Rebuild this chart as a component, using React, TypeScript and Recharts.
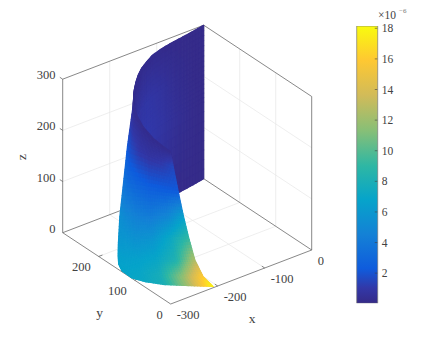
import { Bar, BarChart, ReferenceLine, Scatter, ScatterChart, XAxis, YAxis } from "recharts"

const WIDTH = 432
const HEIGHT = 341
const FONT = "'Liberation Serif', serif"

const xTicks = [-300, -200, -100, 0]
const yTicks = [0, 100, 200]
const zTicks = [0, 100, 200, 300]
const barTicks = [2, 4, 6, 8, 10, 12, 14, 16, 18]

// back sheet, columns along the curve, rows by height
const backX = [0, -30, -59, -84, -109, -131, -151, -171, -190, -208, -226, -241, -254]
const backY = [300, 294, 289, 285, 279, 272, 261, 249, 234, 217, 198, 180, 164]
const backZ = [300, 220, 150, 0]
const backC = [
  [0.1, 0.1, 0.1, 0.12, 0.15, 0.18, 0.2, 0.2, 0.2, 0.2, 0.2, 0.2, 0.2],
  [0.05, 0.1, 0.25, 0.45, 0.7, 0.85, 0.9, 0.85, 0.75, 0.65, 0.55, 0.45, 0.4],
  [0.05, 0.15, 0.35, 0.6, 0.85, 1, 1.1, 1.1, 1.05, 0.95, 0.85, 0.7, 0.6],
  [0.05, 0.08, 0.1, 0.2, 0.3, 0.4, 0.5, 0.5, 0.5, 0.45, 0.4, 0.35, 0.3],
]

// front sheet
const frontZ = [280, 240, 170, 100, 50, 25, 10, 0]
const frontX = [
  [-233, -253, -268, -278, -281, -282],
  [-288, -289, -284, -280, -274, -267],
  [-294, -289, -280, -267, -252, -238],
  [-295, -286, -272, -252, -230, -209],
  [-298, -286, -267, -243, -217, -191],
  [-297, -292, -278, -256, -230, -204],
  [-299, -299, -288, -267, -239, -211],
  [-298, -299, -288, -268, -239, -207],
]
const frontY = [
  [191, 156, 118, 77, 45, 24],
  [136, 123, 107, 83, 57, 36],
  [139, 131, 117, 99, 78, 60],
  [148, 141, 130, 116, 99, 83],
  [148, 145, 137, 123, 107, 93],
  [150, 135, 117, 96, 75, 58],
  [146, 123, 98, 71, 46, 26],
  [138, 109, 84, 57, 31, 3],
]
const frontC = [
  [0.2, 0.2, 0.2, 0.2, 0.2, 0.2],
  [2.2, 1.6, 1, 0.8, 1, 1.5],
  [3.8, 3.2, 2.8, 2.4, 2.3, 2.2],
  [5.5, 5, 4.5, 4.2, 4.8, 6.5],
  [6, 6, 5.6, 5.8, 7.2, 8.8],
  [6.5, 6.5, 6.6, 7, 8.3, 12.5],
  [6.7, 6.8, 7, 7.8, 11.5, 16],
  [6.8, 7, 7.2, 8, 12, 18],
]

const colorValues = [0, 1, 2.27, 4.5, 6.8, 9, 11.3, 13.6, 15.9, 18.15]
const colorHex = ["#352a87", "#3238a8", "#0f5cdd", "#1481d6", "#06a4ca", "#2eb7a4", "#87bf77", "#d1bb59", "#fec832", "#f9fb0e"]

const toRgb = (hex: string) => [1, 3, 5].map((i) => parseInt(hex.slice(i, i + 2), 16))

function parula(c: number) {
  let i = 0
  while (i < colorValues.length - 2 && c > colorValues[i + 1]) i++
  const t = Math.max(0, Math.min(1, (c - colorValues[i]) / (colorValues[i + 1] - colorValues[i])))
  const a = toRgb(colorHex[i])
  const b = toRgb(colorHex[i + 1])
  const m = a.map((v, k) => Math.round(v + (b[k] - v) * t))
  return `rgb(${m[0]},${m[1]},${m[2]})`
}

// view of the 3D box on the page
const project = (x: number, y: number, z: number) => ({
  sx: 170.7 + (x + 300) * 0.47 - y * 0.36,
  sy: 304 - (x + 300) * 0.18 - y * 0.2377 - z * 0.5117,
})

type Node = { sx: number; sy: number; c: number; right?: Node; down?: Node; diag?: Node }

function buildSheet(xs: number[][], ys: number[][], zs: number[], cs: number[][]) {
  const grid: Node[][] = xs.map((row, r) =>
    row.map((x, k) => ({ ...project(x, ys[r][k], zs[r]), c: cs[r][k] })),
  )
  grid.forEach((row, r) =>
    row.forEach((n, k) => {
      n.right = row[k + 1]
      n.down = grid[r + 1]?.[k]
      n.diag = grid[r + 1]?.[k + 1]
    }),
  )
  return grid.flat()
}

const backNodes = buildSheet(
  backZ.map(() => backX),
  backZ.map(() => backY),
  backZ,
  backC,
)
const frontNodes = buildSheet(frontX, frontY, frontZ, frontC)

// interpolated shading of one cell, like shading interp
const STEPS = 8
function SurfaceCell(props: any) {
  const { cx, cy, payload } = props
  const n: Node = payload
  if (!n.right || !n.down || !n.diag) return null
  const at = (u: number, v: number) => {
    const w = (a: number, b: number, c: number, d: number) =>
      (1 - v) * ((1 - u) * a + u * b) + v * ((1 - u) * c + u * d)
    return {
      x: cx + w(0, n.right!.sx - n.sx, n.down!.sx - n.sx, n.diag!.sx - n.sx),
      y: cy + w(0, n.right!.sy - n.sy, n.down!.sy - n.sy, n.diag!.sy - n.sy),
      c: w(n.c, n.right!.c, n.down!.c, n.diag!.c),
    }
  }
  const cells = []
  for (let i = 0; i < STEPS; i++) {
    for (let j = 0; j < STEPS; j++) {
      const p = [at(i / STEPS, j / STEPS), at((i + 1) / STEPS, j / STEPS), at((i + 1) / STEPS, (j + 1) / STEPS), at(i / STEPS, (j + 1) / STEPS)]
      const color = parula(at((i + 0.5) / STEPS, (j + 0.5) / STEPS).c)
      cells.push(
        <polygon
          key={`${i}-${j}`}
          points={p.map((q) => `${q.x.toFixed(2)},${q.y.toFixed(2)}`).join(" ")}
          fill={color}
          stroke={color}
          strokeWidth={1.1}
          strokeLinejoin="round"
        />,
      )
    }
  }
  return <g>{cells}</g>
}

function LabelMark(props: any) {
  const { cx, cy, payload } = props
  return (
    <text
      x={cx + payload.dx}
      y={cy + payload.dy}
      textAnchor={payload.anchor}
      dominantBaseline="central"
      fontFamily={FONT}
      fontSize={payload.size}
      fill="#404040"
      opacity={0.99}
      transform={payload.rotate ? `rotate(-90 ${cx + payload.dx} ${cy + payload.dy})` : undefined}
    >
      {payload.text}
    </text>
  )
}

const tickLabels = [
  ...xTicks.map((v) => ({ ...project(v, 0, 0), text: `${v}`, dx: 6, dy: 11, anchor: "start", size: 12.5 })),
  ...yTicks.map((v) => ({ ...project(-300, v, 0), text: `${v}`, dx: -8, dy: 10.5, anchor: "end", size: 12.5 })),
  ...zTicks.map((v) => ({ ...project(-300, 300, v), text: `${v}`, dx: -7.2, dy: -4, anchor: "end", size: 12.5 })),
  { ...project(-150, 0, 0), text: "x", dx: 11, dy: 41, anchor: "middle", size: 13.5 },
  { ...project(-300, 150, 0), text: "y", dx: -17, dy: 44, anchor: "middle", size: 13.5 },
  { ...project(-300, 300, 150), text: "z", dx: -41, dy: 1, anchor: "middle", size: 13.5, rotate: true },
]

type P = [number, number, number]
const seg = (a: P, b: P) => {
  const p = project(...a)
  const q = project(...b)
  return [
    { x: p.sx, y: p.sy },
    { x: q.sx, y: q.sy },
  ]
}

const gridLines: [P, P][] = [
  ...[-200, -100].flatMap((v): [P, P][] => [
    [[v, 0, 0], [v, 300, 0]],
    [[v, 300, 0], [v, 300, 300]],
  ]),
  ...[100, 200].flatMap((v): [P, P][] => [
    [[-300, v, 0], [0, v, 0]],
    [[0, v, 0], [0, v, 300]],
  ]),
  ...[100, 200].flatMap((v): [P, P][] => [
    [[-300, 300, v], [0, 300, v]],
    [[0, 300, v], [0, 0, v]],
  ]),
]

const boxLines: [P, P][] = [
  [[-300, 300, 0], [-300, 0, 0]],
  [[-300, 0, 0], [0, 0, 0]],
  [[-300, 300, 0], [0, 300, 0]],
  [[0, 300, 0], [0, 0, 0]],
  [[-300, 300, 0], [-300, 300, 300]],
  [[0, 300, 0], [0, 300, 300]],
  [[0, 0, 0], [0, 0, 300]],
  [[-300, 300, 300], [0, 300, 300]],
  [[0, 300, 300], [0, 0, 300]],
  ...xTicks.slice(1, 3).map((v): [P, P] => [[v, 0, 0], [v, 8, 0]]),
  ...yTicks.slice(1).map((v): [P, P] => [[-300, v, 0], [-292, v, 0]]),
  ...zTicks.slice(1).map((v): [P, P] => [[-300, 300, v], [-300, 308, v]]),
]

const barDomain = [0.03, 18.15]
const barData = [{ name: "c", top: 18.15 }]

function BarTick(props: any) {
  const { x, y, payload } = props
  return (
    <g>
      <line x1={x - 2.5} x2={x} y1={y} y2={y} stroke="#404040" strokeWidth={0.6} />
      <text x={x + 4.5} y={y} dominantBaseline="central" fontFamily={FONT} fontSize={11.5} fill="#404040" opacity={0.99}>
        {payload.value}
      </text>
    </g>
  )
}

export default function App() {
  return (
    <div style={{ position: "absolute", left: 0, top: 0, width: WIDTH, height: HEIGHT, background: "#fff" }}>
      <div style={{ position: "absolute", left: 0, top: 0 }}>
        <ScatterChart width={WIDTH} height={HEIGHT} margin={{ top: 0, right: 0, bottom: 0, left: 0 }}>
          <XAxis type="number" dataKey="sx" domain={[0, WIDTH]} hide />
          <YAxis type="number" dataKey="sy" domain={[0, HEIGHT]} reversed hide />
          {gridLines.map(([a, b], i) => (
            <ReferenceLine key={`g${i}`} segment={seg(a, b)} stroke="#e6e6e6" strokeWidth={0.7} />
          ))}
          {boxLines.map(([a, b], i) => (
            <ReferenceLine key={`b${i}`} segment={seg(a, b)} stroke="#555555" strokeWidth={0.7} />
          ))}
          <Scatter data={backNodes} shape={SurfaceCell} isAnimationActive={false} />
          <Scatter data={frontNodes} shape={SurfaceCell} isAnimationActive={false} />
          <Scatter data={tickLabels} shape={LabelMark} isAnimationActive={false} />
        </ScatterChart>
      </div>
      <div style={{ position: "absolute", left: 356, top: 0 }}>
        <BarChart
          width={76}
          height={HEIGHT}
          data={barData}
          margin={{ top: 26, right: 0, bottom: 37.7, left: 0.7 }}
          barCategoryGap={0}
        >
          <defs>
            <linearGradient id="parulaBar" x1="0" y1="0" x2="0" y2="1">
              {colorValues
                .map((v, i) => (
                  <stop key={v} offset={(18.15 - v) / 18.15} stopColor={colorHex[i]} />
                ))
                .reverse()}
            </linearGradient>
          </defs>
          <XAxis dataKey="name" hide />
          <YAxis
            orientation="right"
            width={54.7}
            domain={barDomain}
            ticks={barTicks}
            allowDataOverflow
            axisLine={false}
            tickLine={false}
            tickSize={0}
            tickMargin={0}
            tick={BarTick}
            interval={0}
          />
          <Bar dataKey="top" fill="url(#parulaBar)" stroke="#7a7a7a" strokeWidth={0.7} isAnimationActive={false} />
          <text x={22} y={15} fontFamily={FONT} fontSize={11.5} fill="#404040" opacity={0.99} dominantBaseline="central">
            ×10
            <tspan dx={3} dy={-4} fontSize={7} fill="#777777">
              −6
            </tspan>
          </text>
        </BarChart>
      </div>
    </div>
  )
}
